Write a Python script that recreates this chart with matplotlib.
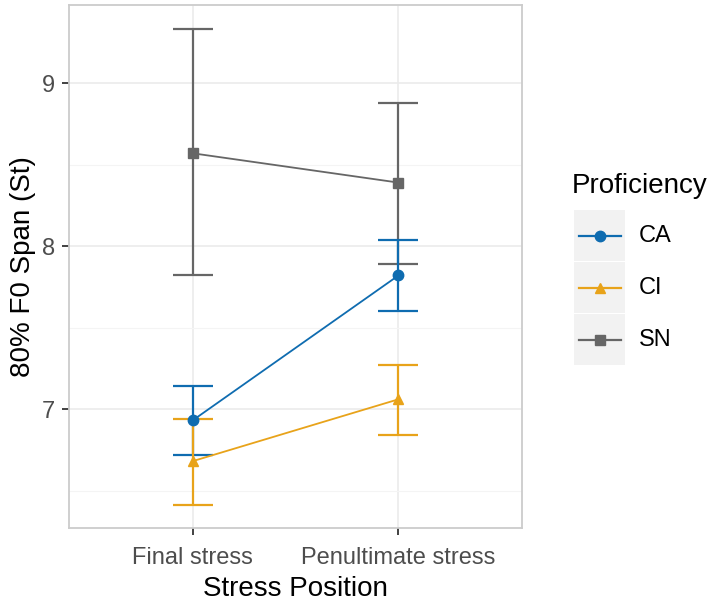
import matplotlib.pyplot as plt
from matplotlib.patches import Rectangle
from matplotlib.lines import Line2D

positions = ["Final stress", "Penultimate stress"]
groups = ["CA", "CI", "SN"]
colors = {"CA": "#0F6CB0", "CI": "#E8A31A", "SN": "#666666"}
markers = {"CA": "o", "CI": "^", "SN": "s"}

means = {"CA": [6.93, 7.82], "CI": [6.68, 7.06], "SN": [8.57, 8.39]}
upper = {"CA": [7.14, 8.04], "CI": [6.94, 7.27], "SN": [9.33, 8.88]}
lower = {"CA": [6.72, 7.60], "CI": [6.41, 6.84], "SN": [7.82, 7.89]}

plt.rcParams['font.family'] = ['Liberation Sans', 'DejaVu Sans']

fig = plt.figure(figsize=(7.09, 6.05), dpi=100)
ax = fig.add_axes([69 / 709, 77 / 605, 453 / 709, 523 / 605])

xs = [1, 2]
for g in ["SN", "CA", "CI"]:
    c = colors[g]
    yerr = [[m - l for m, l in zip(means[g], lower[g])],
            [u - m for m, u in zip(means[g], upper[g])]]
    ax.errorbar(xs, means[g], yerr=yerr, fmt='none', ecolor=c, elinewidth=1.6,
                capsize=14.5, capthick=1.6, zorder=3)
    ax.plot(xs, means[g], color=c, lw=1.3, marker=markers[g], ms=7.5, zorder=4)

ax.set_xlim(0.4, 2.6)
ax.set_ylim(6.27, 9.48)
ax.set_xticks(xs)
ax.set_xticklabels(positions)
ax.set_yticks([7, 8, 9])
ax.set_yticks([6.5, 7.5, 8.5], minor=True)
ax.grid(True, which='major', color='#EBEBEB', lw=1.2)
ax.grid(True, which='minor', color='#F4F4F4', lw=0.8)
ax.set_axisbelow(True)
for s in ax.spines.values():
    s.set_color('#CCCCCC')
    s.set_linewidth(1.3)
ax.tick_params(which='major', length=5, color='#333333', width=1.3,
               labelsize=17, labelcolor='#4D4D4D', pad=5)
ax.tick_params(axis='x', pad=9)
ax.tick_params(which='minor', length=0)
ax.set_xlabel("Stress Position", fontsize=20, labelpad=5)
ax.set_ylabel("80% F0 Span (St)", fontsize=20, labelpad=4)

# legend drawn by hand, ggplot style
W, H = 709, 605
fig.text(572 / W, 1 - 186 / H, "Proficiency", fontsize=20, va='center', ha='left')
for i, g in enumerate(groups):
    top = 210 + 52 * i
    fig.add_artist(Rectangle((574 / W, 1 - (top + 51) / H), 51 / W, 51 / H,
                             transform=fig.transFigure, facecolor='#F2F2F2',
                             edgecolor='none'))
    yc = 1 - (top + 26) / H
    fig.add_artist(Line2D([579 / W, 621 / W], [yc, yc], transform=fig.transFigure,
                          color=colors[g], lw=1.6))
    fig.add_artist(Line2D([600 / W], [yc], transform=fig.transFigure,
                          color=colors[g], marker=markers[g], ms=7.5))
    fig.text(639 / W, yc, g, fontsize=17, va='center', ha='left')

fig.savefig("out.png", dpi=100)
